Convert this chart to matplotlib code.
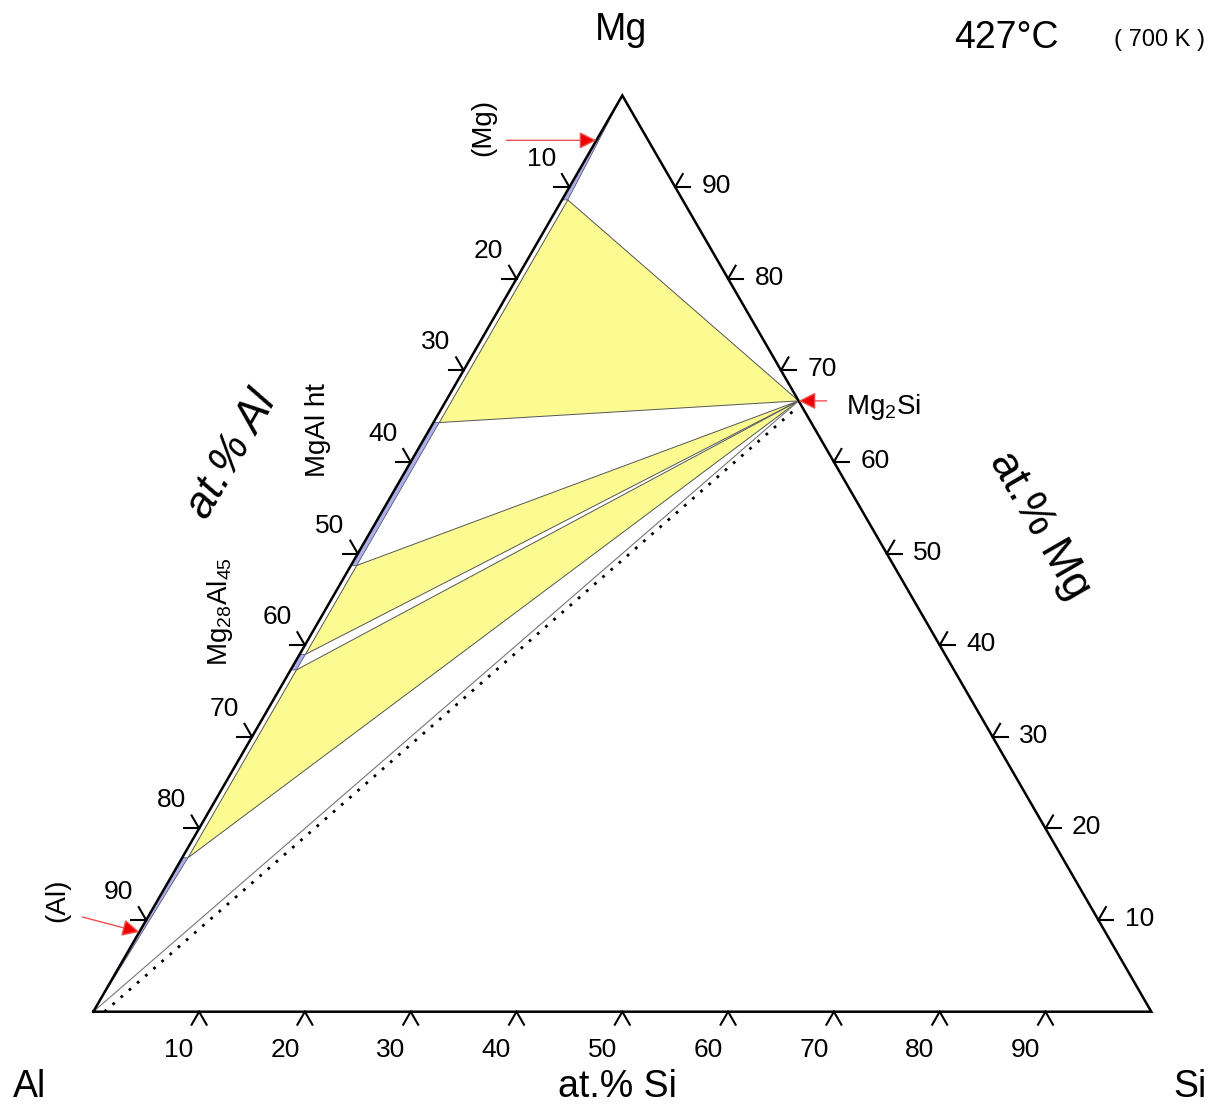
import numpy as np
import matplotlib.pyplot as plt
from matplotlib.patches import Polygon

plt.rcParams['font.family'] = ['Liberation Sans', 'DejaVu Sans']
plt.rcParams['mathtext.default'] = 'regular'

# compositions are (x_Si, x_Mg) as fractions, Al is the rest
mg2si = (1 / 3, 2 / 3)
tick_values = [10, 20, 30, 40, 50, 60, 70, 80, 90]

# single-phase strips along the Al-Mg side: (Mg low, Mg high)
strip_names = ['(Al)', 'Mg28Al45', 'MgAl ht', '(Mg)']
strip_mg_lo = [0.0, 0.373, 0.487, 0.886]
strip_mg_hi = [0.168, 0.390, 0.643, 1.0]
strip_si = 0.0055

# three-phase triangles: two corners on the Al-Mg side (Mg content) + Mg2Si
tri_mg_a = [0.886, 0.487, 0.373]
tri_mg_b = [0.643, 0.390, 0.168]

# dotted section line, (x_Si, x_Mg) at both ends
dotted_start = (0.0105, 0.0)
dotted_end = (0.334, 0.656)

SCALE = 1058.0  # pixels per unit
X0, Y0 = 93.3, 1011.7  # Al corner in pixels (y from top)
W, H = 1211, 1107


def tern(si, mg):
    si = np.asarray(si, float)
    mg = np.asarray(mg, float)
    return si + mg / 2, mg * np.sqrt(3) / 2


def pix(px, py):
    # figure-fraction position from a pixel position of the picture
    return px / W, 1 - py / H


fig = plt.figure(figsize=(W / 100, H / 100), dpi=100)
ax = fig.add_axes([0, 0, 1, 1])
ax.set_xlim(-X0 / SCALE, (W - X0) / SCALE)
ax.set_ylim(-(H - Y0) / SCALE, Y0 / SCALE)
ax.axis('off')

# yellow tie triangles
for ma, mb in zip(tri_mg_a, tri_mg_b):
    xs, ys = tern([strip_si, strip_si, mg2si[0]], [ma, mb, mg2si[1]])
    ax.add_patch(Polygon(np.column_stack([xs, ys]), closed=True, facecolor='#fbfb92',
                         edgecolor='#555555', lw=0.7, zorder=2))

# blue single phase strips
for lo, hi in zip(strip_mg_lo, strip_mg_hi):
    s_lo = 0.0 if lo == 0.0 else strip_si
    s_hi = 0.0 if hi == 1.0 else strip_si
    xs, ys = tern([0, 0, s_hi, s_lo], [lo, hi, hi, lo])
    ax.add_patch(Polygon(np.column_stack([xs, ys]), closed=True, facecolor='#aeaee8',
                         edgecolor='#444466', lw=0.5, zorder=3))

# (Al) + Mg2Si boundary and dotted section
xs, ys = tern([0, mg2si[0]], [0, mg2si[1]])
ax.plot(xs, ys, color='#777777', lw=0.8, zorder=2)
xs, ys = tern([dotted_start[0], dotted_end[0]], [dotted_start[1], dotted_end[1]])
ax.plot(xs, ys, color='black', lw=2.0, ls=(0, (1, 2.9)), zorder=2)

# triangle outline
xs, ys = tern([0, 1, 0, 0], [0, 0, 1, 0])
ax.plot(xs, ys, color='black', lw=1.8, zorder=4, solid_joinstyle='miter')

# chevron ticks
L = 15 / SCALE
sides = [
    (lambda t: tern(t, 0), (240, 300), (-20, -38)),      # Si along bottom
    (lambda t: tern(0, 1 - t), (120, 180), (-28, 28)),   # Al along left
    (lambda t: tern(1 - t, t), (0, 60), (41, 1)),        # Mg along right
]
for pos, angles, off in sides:
    for v in tick_values:
        px_, py_ = pos(v / 100)
        for a in angles:
            r = np.radians(a)
            ax.plot([px_, px_ + L * np.cos(r)], [py_, py_ + L * np.sin(r)],
                    color='black', lw=1.5, zorder=4)
        ax.annotate(str(v), (px_, py_), xytext=off, textcoords='offset pixels',
                    ha='center', va='center', fontsize=19)

# red arrows
arrow_kw = dict(arrowstyle='-|>', facecolor='#ee0000', edgecolor='#f05050',
                lw=1.0, mutation_scale=26, shrinkA=0, shrinkB=0)
ax.annotate('', tern(0, 0.951), xytext=(-90, 0), textcoords='offset pixels',
            arrowprops=arrow_kw, zorder=5)
ax.annotate('', tern(0, 0.087), xytext=(-57, 15), textcoords='offset pixels',
            arrowprops=arrow_kw, zorder=5)
ax.annotate('', tern(*mg2si), xytext=(28, 0), textcoords='offset pixels',
            arrowprops=arrow_kw, zorder=5)

# phase labels
fig.text(*pix(483, 127), '(Mg)', rotation=90, ha='center', va='center', fontsize=20)
fig.text(*pix(57, 900), '(Al)', rotation=90, ha='center', va='center', fontsize=20)
fig.text(*pix(318, 430), 'MgAl ht', rotation=90, ha='center', va='center', fontsize=20)
fig.text(*pix(220, 612), 'Mg$_{28}$Al$_{45}$', rotation=90, ha='center', va='center', fontsize=20)
fig.text(*pix(846, 407), 'Mg$_2$Si', ha='left', va='center', fontsize=20)

# corners and axis titles
fig.text(*pix(621, 30), 'Mg', ha='center', va='center', fontsize=27)
fig.text(*pix(30, 1087), 'Al', ha='center', va='center', fontsize=27)
fig.text(*pix(1190, 1087), 'Si', ha='center', va='center', fontsize=27)
fig.text(*pix(617, 1087), 'at.% Si', ha='center', va='center', fontsize=27)
fig.text(*pix(232, 455), 'at.% Al', rotation=60, ha='center', va='center',
         fontsize=32, style='italic')
fig.text(*pix(1040, 525), 'at.% Mg', rotation=-60, ha='center', va='center', fontsize=32)
fig.text(*pix(1006, 38), '427°C', ha='center', va='center', fontsize=27)
fig.text(*pix(1160, 40), '( 700 K )', ha='center', va='center', fontsize=17)

fig.savefig('out.png', dpi=100, facecolor='white')
